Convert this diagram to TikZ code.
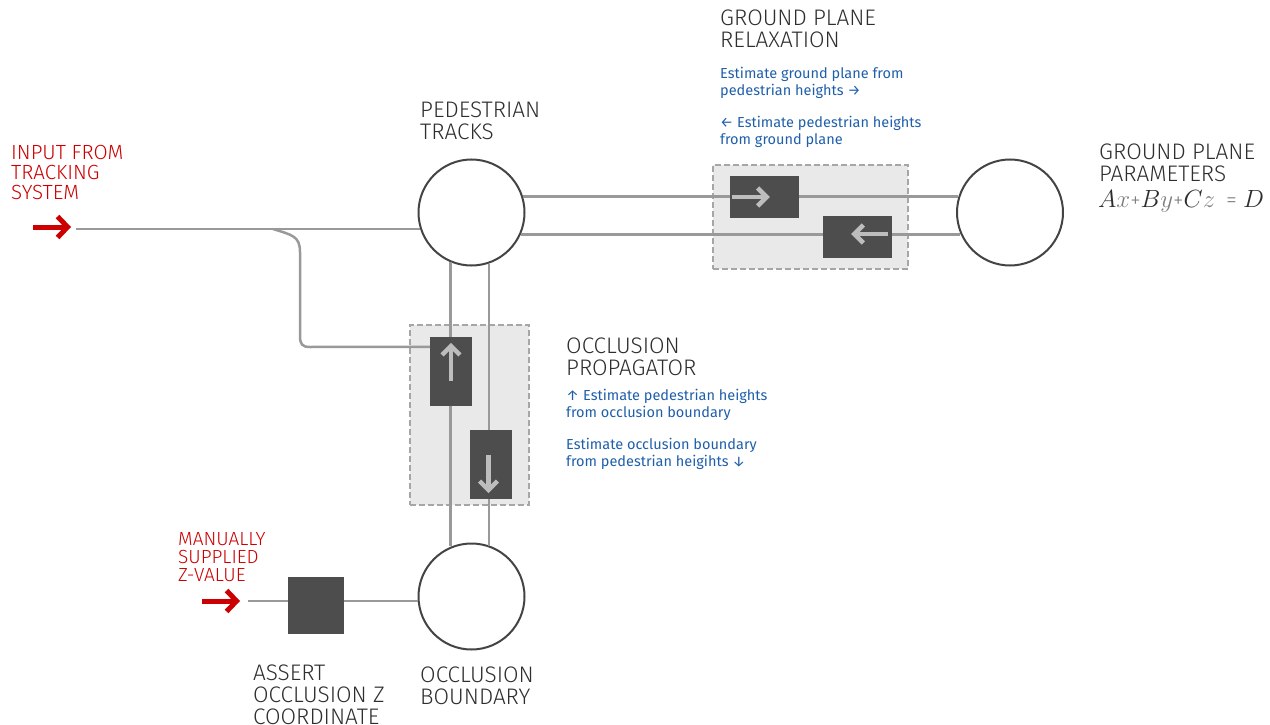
\documentclass[tikz,border=0pt]{standalone}
\usepackage{fontspec}
\setmainfont{Fira Sans}
\newfontfamily\headfont{Fira Sans Light}
\usetikzlibrary{arrows.meta,calc}

\definecolor{tdark}{HTML}{2E2E2E}
\definecolor{tred}{HTML}{CC0000}
\definecolor{tblue}{HTML}{1F5FAA}
\definecolor{wiregray}{HTML}{999999}
\definecolor{ringstroke}{HTML}{444444}
\definecolor{blockfill}{HTML}{4D4D4D}
\definecolor{arrowgray}{HTML}{BDBDBD}
\definecolor{panelfill}{HTML}{E9E9E9}
\definecolor{panelline}{HTML}{A6A6A6}
\definecolor{mathgray}{HTML}{7E7E7E}

% light operators for the plane equation
\newcommand\eqplus{{\headfont\fontsize{21}{21}\selectfont\textcolor{mathgray}{+}}}
\newcommand\eqsign{{\headfont\fontsize{22}{22}\selectfont\textcolor{mathgray}{=}}}
\newcommand\eqvar[1]{\textcolor{mathgray}{$#1$}}

\begin{document}
\begin{tikzpicture}[x=1pt,y=-1pt,
  panelbox/.style={draw=panelline, fill=panelfill, line width=2, dash pattern=on 6pt off 3pt, inner sep=0},
  ring/.style={circle, draw=ringstroke, fill=white, line width=2, minimum size=106, inner sep=0},
  wire/.style={draw=wiregray, line width=2.5},
  flowarrow/.style={draw=arrowgray, line width=4.5, -{Straight Barb[length=9pt,width=18pt]}},
  redarrow/.style={draw=tred, line width=5, -{Straight Barb[length=10pt,width=21pt]}},
  heading/.style={anchor=north west, inner sep=0, align=left, text=tdark, font=\headfont\fontsize{22.5}{22}\selectfont},
  redlabel/.style={anchor=north west, inner sep=0, align=left, text=tred, font=\headfont\fontsize{20.5}{20}\selectfont},
  redsmall/.style={anchor=north west, inner sep=0, align=left, text=tred, font=\headfont\fontsize{19}{18}\selectfont},
  note/.style={anchor=north west, inner sep=0, align=left, text=tblue, font=\fontsize{14.5}{17}\selectfont},
]
\useasboundingbox (0,0) rectangle (1270,725);

% grey panels behind the two estimator pairs
\node[panelbox, minimum width=195, minimum height=104] (gprpanel) at (810.5,217) {};
\node[panelbox, minimum width=119, minimum height=180] (occpanel) at (469.5,415) {};

% state nodes
\node[ring] (pt) at (471.5,212.5) {};
\node[ring] (gp) at (1010,212.5) {};
\node[ring] (ob) at (471.5,596.5) {};

% free ends of the input wires
\coordinate (inTail) at (33,227);
\coordinate (inTip) at (71,227);
\coordinate (inStart) at (76,229);
\coordinate (split) at (273,229);
\coordinate (zTail) at (202,601);
\coordinate (zTip) at (240,601);
\coordinate (zStart) at (248,601);

% estimator blocks (positions only, filled after the wires)
\path (764.5,197) node[minimum width=69, minimum height=42, inner sep=0] (fwd) {};
\path (857.5,237) node[minimum width=69, minimum height=42, inner sep=0] (bwd) {};
\path (451,371.5) node[minimum width=42, minimum height=69, inner sep=0] (up) {};
\path (491,464.5) node[minimum width=42, minimum height=69, inner sep=0] (down) {};
\path (316,605.5) node[minimum width=56, minimum height=57, inner sep=0] (assert) {};

% wires, kept exactly horizontal or vertical between the rings
\draw[wire] (pt.17) -- (pt.17 -| gp.163);
\draw[wire] (pt.336.1) -- (pt.336.1 -| gp.203.9);
\draw[wire] (pt.247.2) -- (pt.247.2 |- ob.112.8);
\draw[wire] (pt.289.3) -- (pt.289.3 |- ob.70.7);
\draw[wire] (inStart) -- (inStart -| pt.198.1);
\draw[wire] (split) .. controls (292,235) and (300,236) .. (300,252)
  -- (300,336) .. controls (300,344) and (302,347) .. (310,347)
  -- ($(up.north west)+(0,10)$);
\draw[wire] (zStart) -- (zStart -| ob.west);

% blocks on top of the wires
\foreach \b in {fwd,bwd,up,down,assert}
  \fill[blockfill] (\b.south west) rectangle (\b.north east);

% direction marks inside the blocks
\draw[flowarrow] ($(fwd.west)+(2,0)$) -- ($(fwd.west)+(40,0)$);
\draw[flowarrow] ($(bwd.east)+(-4,-3)$) -- ($(bwd.east)+(-41,-3)$);
\draw[flowarrow] ($(up.north)+(0,44)$) -- ($(up.north)+(0,6)$);
\draw[flowarrow] ($(down.south)+(-2.5,-44)$) -- ($(down.south)+(-2.5,-6)$);

% external inputs
\draw[redarrow] (inTail) -- (inTip);
\draw[redarrow] (zTail) -- (zTip);

% labels
\node[heading] (ptlabel) at (420,102) {PEDESTRIAN\\TRACKS};
\node[heading] (gprlabel) at (720,10) {GROUND PLANE\\RELAXATION};
\node[heading] (gplabel) at (1099,144) {GROUND PLANE\\PARAMETERS};
\node[heading] (occlabel) at (566,338) {OCCLUSION\\PROPAGATOR};
\node[heading] (oblabel) at (420,667) {OCCLUSION\\BOUNDARY};
\node[heading] (assertlabel) at (253,665) {ASSERT\\OCCLUSION Z\\COORDINATE};
\node[redlabel] (inlabel) at (11,145) {INPUT FROM\\TRACKING\\SYSTEM};
\node[redsmall] (zlabel) at (178,532) {MANUALLY\\SUPPLIED\\Z-VALUE};
\node[note] (gprnoteA) at (720,67) {Estimate ground plane from\\pedestrian heights →};
\node[note] (gprnoteB) at (720,116) {← Estimate pedestrian heights\\from ground plane};
\node[note] (occnoteA) at (566,389) {↑ Estimate pedestrian heights\\from occlusion boundary};
\node[note] (occnoteB) at (566,438) {Estimate occlusion boundary\\from pedestrian heigihts ↓};
\node[anchor=base west, inner sep=0, text=tdark, font=\fontsize{25.5}{27}\selectfont] (formula) at (1098,207)
  {$A$\eqvar{x}\eqplus$B$\eqvar{y}\eqplus$C$\eqvar{z}\hspace{11pt}\eqsign\hspace{6pt}$D$};
\end{tikzpicture}
\end{document}
